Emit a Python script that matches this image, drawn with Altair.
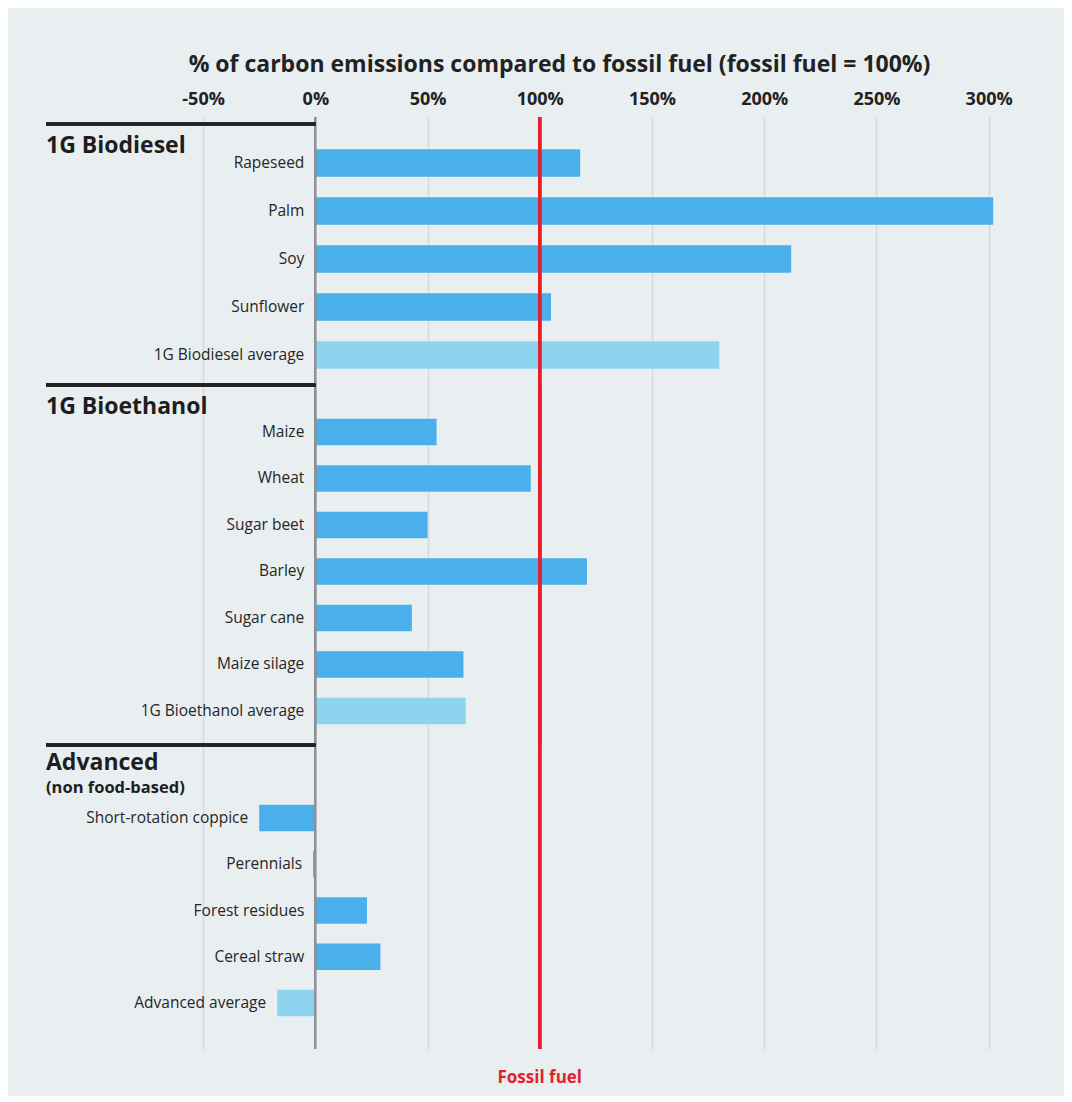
import altair as alt
import pandas as pd

# ---- data ----
biodiesel = ["Rapeseed", "Palm", "Soy", "Sunflower", "1G Biodiesel average"]
biodiesel_vals = [118, 302, 212, 105, 180]
bioethanol = ["Maize", "Wheat", "Sugar beet", "Barley", "Sugar cane", "Maize silage", "1G Bioethanol average"]
bioethanol_vals = [54, 96, 50, 121, 43, 66, 67]
advanced = ["Short-rotation coppice", "Perennials", "Forest residues", "Cereal straw", "Advanced average"]
advanced_vals = [-25, -1, 23, 29, -17]
x_ticks = [-50, 0, 50, 100, 150, 200, 250, 300]
axis_title = "% of carbon emissions compared to fossil fuel (fossil fuel = 100%)"
fossil_label = "Fossil fuel"

XMIN, XMAX = -120, 330
W = 1010
BLUE = "#49b0ec"
LIGHT = "#8dd4f1"
BG = "#e9eef1"
GRID = "#d4dadd"
RED = "#e5202e"
FONT = "Open Sans"


def panel(names, vals, height, po, align, headings, rule_y, first=False, footer=False):
    df = pd.DataFrame({
        "name": names,
        "value": vals,
        "kind": ["avg" if "average" in n else "crop" for n in names],
    })
    xscale = alt.Scale(domain=[XMIN, XMAX], nice=False, zero=False)
    if first:
        axis = alt.Axis(orient="top", values=x_ticks, labelExpr="datum.value + '%'",
                        grid=True, gridColor=GRID, gridWidth=1.5, ticks=False, domain=False,
                        labelFont=FONT, labelFontSize=18, labelFontWeight="bold", labelColor="#222",
                        labelPadding=9, title=axis_title, titleFont=FONT, titleFontSize=23,
                        titleFontWeight="bold", titleColor="#222", titlePadding=14,
                        titleX=513, titleAlign="center")
    else:
        axis = alt.Axis(orient="top", values=x_ticks, grid=True, gridColor=GRID, gridWidth=1.5,
                        ticks=False, domain=False, labels=False, title=None)
    yenc = alt.Y("name:N", sort=names, axis=None,
                 scale=alt.Scale(paddingInner=0.43, paddingOuter=po, align=align))
    base = alt.Chart(df)
    bars = base.mark_bar().encode(
        x=alt.X("value:Q", scale=xscale, axis=axis),
        x2=alt.datum(0),
        y=yenc,
        color=alt.Color("kind:N", scale=alt.Scale(domain=["crop", "avg"], range=[BLUE, LIGHT]), legend=None),
    )
    labels = base.transform_calculate(lx="min(datum.value, 0)").mark_text(
        align="right", baseline="middle", dx=-11, font=FONT, fontSize=15.5, color="#262626"
    ).encode(x=alt.X("lx:Q", scale=xscale, axis=axis), y=yenc, text="name:N")
    zero = base.mark_rule(color="#8c9195", strokeWidth=1.6).encode(x=alt.datum(0))
    red = base.mark_rule(color=RED, strokeWidth=3).encode(x=alt.datum(100))
    top_rule = base.mark_rule(color="#222", strokeWidth=3).encode(
        x=alt.datum(XMIN), x2=alt.datum(0), y=alt.value(rule_y))
    layers = [bars, zero, red, top_rule, labels]
    for text, yoff, size in headings:
        layers.append(
            alt.Chart(pd.DataFrame({"t": [text]})).mark_text(
                align="left", baseline="middle", font=FONT, fontSize=size, fontWeight="bold", color="#1e1e1e"
            ).encode(x=alt.value(0), y=alt.value(yoff), text="t:N")
        )
    if footer:
        layers.append(
            alt.Chart(pd.DataFrame({"t": [fossil_label]})).mark_text(
                align="center", baseline="middle", font=FONT, fontSize=17, fontWeight="bold", color=RED
            ).encode(x=alt.datum(100), y=alt.value(height + 29), text="t:N")
        )
    return alt.layer(*layers).properties(width=W, height=height)


p1 = panel(biodiesel, biodiesel_vals, 268, 0.507, 0.665, [("1G Biodiesel", 29, 23)], 7, first=True)
p2 = panel(bioethanol, bioethanol_vals, 360, 0.586, 0.619, [("1G Bioethanol", 22, 23)], 0)
p3 = panel(advanced, advanced_vals, 304, 1.0, 0.646,
           [("Advanced", 18, 23), ("(non food-based)", 43, 16.5)], 0, footer=True)

chart = alt.vconcat(p1, p2, p3, spacing=0, bounds="flush").properties(
    background=BG,
    padding={"left": 36, "top": 45, "right": 8, "bottom": 10},
).configure_view(stroke=None)

chart.save("out.html", embed_options={"renderer": "svg", "actions": False})
